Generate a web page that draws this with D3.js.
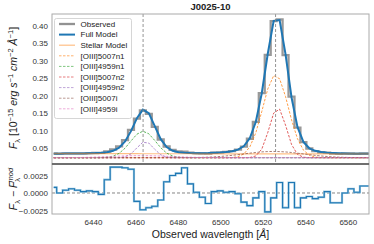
<!DOCTYPE html>
<html>
<head>
<meta charset="utf-8">
<script src="https://cdn.jsdelivr.net/npm/d3@7"></script>
<style>
  body { margin: 0; background: #fff; }
  text { font-family: "Liberation Sans", Arial, sans-serif; }
</style>
</head>
<body>
<div id="chart"></div>
<script>
// wavelength grid of the spectrum (Angstrom)
var wave = [6421.5, 6424.3, 6427.1, 6429.9, 6432.7, 6435.5, 6438.3, 6441.1, 6443.9, 6446.7,
            6449.5, 6452.3, 6455.1, 6457.9, 6460.7, 6463.5, 6466.3, 6469.1, 6471.9, 6474.7,
            6477.5, 6480.3, 6483.1, 6485.9, 6488.7, 6491.5, 6494.3, 6497.1, 6499.9, 6502.7,
            6505.5, 6508.3, 6511.1, 6513.9, 6516.7, 6519.5, 6522.3, 6525.1, 6527.9, 6530.7,
            6533.5, 6536.3, 6539.1, 6541.9, 6544.7, 6547.5, 6550.3, 6553.1, 6555.9, 6558.7,
            6561.5, 6564.3, 6567.1, 6569.9];

var observed = [0.0344, 0.0337, 0.0342, 0.0346, 0.0346, 0.0346, 0.0351, 0.0355, 0.0360, 0.0398,
                0.0455, 0.0547, 0.0722, 0.1016, 0.1341, 0.1573, 0.1477, 0.1105, 0.0742, 0.0542,
                0.0443, 0.0404, 0.0396, 0.0366, 0.0351, 0.0344, 0.0338, 0.0363, 0.0374, 0.0386,
                0.0410, 0.0450, 0.0540, 0.0764, 0.1245, 0.2071, 0.3167, 0.4136, 0.4182, 0.3161,
                0.1969, 0.1083, 0.0667, 0.0485, 0.0410, 0.0377, 0.0368, 0.0341, 0.0333, 0.0341,
                0.0343, 0.0335, 0.0342, 0.0342];

var fullModel = [0.0336, 0.0337, 0.0338, 0.0340, 0.0342, 0.0344, 0.0348, 0.0353, 0.0362, 0.0379,
                 0.0418, 0.0510, 0.0686, 0.0982, 0.1353, 0.1597, 0.1498, 0.1124, 0.0752, 0.0526,
                 0.0418, 0.0376, 0.0360, 0.0353, 0.0350, 0.0350, 0.0353, 0.0361, 0.0371, 0.0385,
                 0.0408, 0.0451, 0.0553, 0.0782, 0.1252, 0.2069, 0.3194, 0.4143, 0.4167, 0.3182,
                 0.1954, 0.1104, 0.0674, 0.0490, 0.0418, 0.0383, 0.0366, 0.0355, 0.0347, 0.0341,
                 0.0337, 0.0334, 0.0332, 0.0332];

var stellar = [0.0336, 0.0336, 0.0336, 0.0336, 0.0336, 0.0335, 0.0335, 0.0335, 0.0335, 0.0335,
               0.0335, 0.0335, 0.0335, 0.0335, 0.0335, 0.0334, 0.0334, 0.0334, 0.0334, 0.0334,
               0.0334, 0.0334, 0.0334, 0.0334, 0.0333, 0.0333, 0.0333, 0.0333, 0.0333, 0.0333,
               0.0333, 0.0333, 0.0333, 0.0333, 0.0332, 0.0332, 0.0332, 0.0332, 0.0332, 0.0332,
               0.0332, 0.0332, 0.0332, 0.0332, 0.0332, 0.0331, 0.0331, 0.0331, 0.0331, 0.0331,
               0.0331, 0.0331, 0.0331, 0.0331];

var oiii5007n1 = [0.022, 0.022, 0.022, 0.022, 0.022, 0.022, 0.022, 0.022, 0.022, 0.022,
                  0.022, 0.022, 0.022, 0.022, 0.022, 0.022, 0.022, 0.022, 0.022, 0.022,
                  0.022, 0.022, 0.022, 0.022, 0.022, 0.022, 0.022, 0.022, 0.022, 0.022,
                  0.0227, 0.0250, 0.0330, 0.0532, 0.0937, 0.1544, 0.2188, 0.2573, 0.2484, 0.1972,
                  0.1310, 0.0766, 0.0439, 0.0291, 0.0239, 0.0222, 0.022, 0.022, 0.022, 0.022,
                  0.022, 0.022, 0.022, 0.022];

var oiii4959n1 = [0.022, 0.022, 0.022, 0.022, 0.022, 0.022, 0.022, 0.022, 0.0223, 0.0233,
                  0.0265, 0.0345, 0.0493, 0.0700, 0.0895, 0.0980, 0.0906, 0.0715, 0.0506, 0.0353,
                  0.0269, 0.0235, 0.0224, 0.022, 0.022, 0.022, 0.022, 0.022, 0.022, 0.022,
                  0.022, 0.022, 0.022, 0.022, 0.022, 0.022, 0.022, 0.022, 0.022, 0.022,
                  0.022, 0.022, 0.022, 0.022, 0.022, 0.022, 0.022, 0.022, 0.022, 0.022,
                  0.022, 0.022, 0.022, 0.022];

var oiii5007n2 = [0.022, 0.022, 0.022, 0.022, 0.022, 0.022, 0.022, 0.022, 0.022, 0.022,
                  0.022, 0.022, 0.022, 0.022, 0.022, 0.022, 0.022, 0.022, 0.022, 0.022,
                  0.022, 0.022, 0.022, 0.022, 0.022, 0.022, 0.022, 0.022, 0.022, 0.022,
                  0.022, 0.022, 0.022, 0.0226, 0.0271, 0.0466, 0.0937, 0.1498, 0.1615, 0.1152,
                  0.0602, 0.0316, 0.0235, 0.022, 0.022, 0.022, 0.022, 0.022, 0.022, 0.022,
                  0.022, 0.022, 0.022, 0.022];

var oiii4959n2 = [0.022, 0.022, 0.022, 0.022, 0.022, 0.022, 0.022, 0.022, 0.022, 0.022,
                  0.022, 0.0224, 0.0246, 0.0330, 0.0504, 0.0663, 0.0640, 0.0461, 0.0304, 0.0238,
                  0.0221, 0.022, 0.022, 0.022, 0.022, 0.022, 0.022, 0.022, 0.022, 0.022,
                  0.022, 0.022, 0.022, 0.022, 0.022, 0.022, 0.022, 0.022, 0.022, 0.022,
                  0.022, 0.022, 0.022, 0.022, 0.022, 0.022, 0.022, 0.022, 0.022, 0.022,
                  0.022, 0.022, 0.022, 0.022];

var oiii5007i = [0.022, 0.022, 0.022, 0.022, 0.022, 0.022, 0.022, 0.022, 0.022, 0.022,
                 0.022, 0.022, 0.022, 0.022, 0.022, 0.022, 0.022, 0.022, 0.022, 0.022,
                 0.022, 0.022, 0.0222, 0.0224, 0.0226, 0.0230, 0.0236, 0.0245, 0.0256, 0.0271,
                 0.0288, 0.0308, 0.0330, 0.0351, 0.0371, 0.0387, 0.0397, 0.0400, 0.0396, 0.0386,
                 0.0370, 0.0350, 0.0328, 0.0307, 0.0287, 0.0270, 0.0255, 0.0244, 0.0236, 0.0230,
                 0.0226, 0.0223, 0.0221, 0.0221];

var oiii4959i = [0.0220, 0.0221, 0.0222, 0.0224, 0.0226, 0.0229, 0.0233, 0.0238, 0.0244, 0.0251,
                 0.0258, 0.0266, 0.0272, 0.0277, 0.0279, 0.0280, 0.0278, 0.0274, 0.0268, 0.0261,
                 0.0254, 0.0247, 0.0240, 0.0235, 0.0230, 0.0227, 0.0224, 0.0223, 0.0222, 0.0221,
                 0.022, 0.022, 0.022, 0.022, 0.022, 0.022, 0.022, 0.022, 0.022, 0.022,
                 0.022, 0.022, 0.022, 0.022, 0.022, 0.022, 0.022, 0.022, 0.022, 0.022,
                 0.022, 0.022, 0.022, 0.022];

// observed - model
var residual = [0.0008, 0.0000, 0.0004, 0.0006, 0.0004, 0.0002, 0.0003, 0.0002, -0.0002, 0.0019,
                0.0037, 0.0037, 0.0036, 0.0034, -0.0012, -0.0024, -0.0021, -0.0019, -0.0010, 0.0016,
                0.0025, 0.0028, 0.0036, 0.0013, 0.0001, -0.0006, -0.0015, 0.0002, 0.0003, 0.0001,
                0.0002, -0.0001, -0.0013, -0.0018, -0.0007, 0.0002, -0.0027, -0.0007, 0.0015, -0.0021,
                0.0015, -0.0021, -0.0007, -0.0005, -0.0008, -0.0006, 0.0002, -0.0014, -0.0014, 0.0000,
                0.0006, 0.0001, 0.0010, 0.0010];

var lineCenters = [6463.6, 6526.0];
var xTicks = [6440, 6460, 6480, 6500, 6520, 6540, 6560];
var yTicks = [0.05, 0.10, 0.15, 0.20, 0.25, 0.30, 0.35, 0.40];
var resTicks = [-0.0025, 0, 0.0025];

var components = [
  {name: "[OIII]5007n1", values: oiii5007n1, color: "#ff7f0e"},
  {name: "[OIII]4959n1", values: oiii4959n1, color: "#2ca02c"},
  {name: "[OIII]5007n2", values: oiii5007n2, color: "#d62728"},
  {name: "[OIII]4959n2", values: oiii4959n2, color: "#9467bd"},
  {name: "[OIII]5007i",  values: oiii5007i,  color: "#8c564b"},
  {name: "[OIII]4959i",  values: oiii4959i,  color: "#e377c2"}
];

(function(){
  var W = 374, H = 244;
  var left = 52, right = 369, top = 14, mid = 164, bottom = 214;

  var x = d3.scaleLinear().domain([6420.7, 6570]).range([left, right]);
  var y = d3.scaleLinear().domain([0.004, 0.434]).range([mid, top]);
  var yr = d3.scaleLinear().domain([-0.003, 0.00414]).range([bottom, mid]);

  var svg = d3.select("#chart").append("svg")
      .attr("width", W).attr("height", H);

  var defs = svg.append("defs");
  defs.append("clipPath").attr("id", "clipTop").append("rect")
      .attr("x", left).attr("y", top).attr("width", right - left).attr("height", mid - top);
  defs.append("clipPath").attr("id", "clipRes").append("rect")
      .attr("x", left).attr("y", mid).attr("width", right - left).attr("height", bottom - mid);

  // title
  svg.append("text")
      .attr("x", (left + right) / 2).attr("y", 10)
      .attr("text-anchor", "middle")
      .style("font-size", "9.5px").style("font-weight", "bold").style("fill", "#222")
      .text("J0025-10");

  // ---- top panel ----
  var gTop = svg.append("g").attr("clip-path", "url(#clipTop)");

  var stepLine = function(vals, ys) {
    return d3.line().curve(d3.curveStep)
      .x(function(d, i) { return x(wave[i]); })
      .y(function(d) { return ys(d); })(vals);
  };
  var smoothLine = function(vals) {
    return d3.line()
      .x(function(d, i) { return x(wave[i]); })
      .y(function(d) { return y(d); })(vals);
  };

  // observed spectrum
  gTop.append("path")
      .attr("d", stepLine(observed, y))
      .attr("fill", "none").attr("stroke", "#7f7f7f")
      .attr("stroke-width", 2.3).attr("stroke-opacity", 0.8);

  // full model
  gTop.append("path")
      .attr("d", smoothLine(fullModel))
      .attr("fill", "none").attr("stroke", "#1f77b4").attr("stroke-width", 2);

  // stellar model
  gTop.append("path")
      .attr("d", smoothLine(stellar))
      .attr("fill", "none").attr("stroke", "#ff7f0e")
      .attr("stroke-opacity", 0.5).attr("stroke-width", 1.2);

  // gaussian components
  components.forEach(function(c) {
    gTop.append("path")
        .attr("d", smoothLine(c.values))
        .attr("fill", "none").attr("stroke", c.color)
        .attr("stroke-opacity", 0.85).attr("stroke-width", 0.9)
        .attr("stroke-dasharray", "2.5,1.5");
  });

  // line centres
  lineCenters.forEach(function(l) {
    svg.append("line")
        .attr("x1", x(l)).attr("x2", x(l)).attr("y1", top).attr("y2", mid)
        .attr("stroke", "#888").attr("stroke-width", 0.9)
        .attr("stroke-dasharray", "3,2");
  });

  // ---- residual panel ----
  svg.append("line")
      .attr("x1", left).attr("x2", right).attr("y1", yr(0)).attr("y2", yr(0))
      .attr("stroke", "#777").attr("stroke-width", 0.9).attr("stroke-dasharray", "3,2");

  var gRes = svg.append("g").attr("clip-path", "url(#clipRes)");
  gRes.append("path")
      .attr("d", stepLine(residual, yr))
      .attr("fill", "none").attr("stroke", "#9ecae1").attr("stroke-width", 2.2);
  gRes.append("path")
      .attr("d", stepLine(residual, yr))
      .attr("fill", "none").attr("stroke", "#1f77b4").attr("stroke-width", 1.1);

  // frames
  svg.append("rect").attr("x", left).attr("y", top)
      .attr("width", right - left).attr("height", mid - top)
      .attr("fill", "none").attr("stroke", "#aaa").attr("stroke-width", 1);
  svg.append("rect").attr("x", left).attr("y", mid)
      .attr("width", right - left).attr("height", bottom - mid)
      .attr("fill", "none").attr("stroke", "#aaa").attr("stroke-width", 1);
  svg.append("line").attr("x1", left).attr("x2", right).attr("y1", mid).attr("y2", mid)
      .attr("stroke", "#555").attr("stroke-width", 1.5);

  // axes
  var styleAxis = function(g) {
    g.select(".domain").remove();
    g.selectAll("text").style("font-size", "8px").style("fill", "#333")
      .style("font-family", "'Liberation Sans', Arial, sans-serif");
  };
  svg.append("g").attr("transform", "translate(" + left + ",0)")
      .call(d3.axisLeft(y).tickValues(yTicks).tickFormat(d3.format(".2f")).tickSize(0).tickPadding(4))
      .call(styleAxis);
  svg.append("g").attr("transform", "translate(" + left + ",0)")
      .call(d3.axisLeft(yr).tickValues(resTicks).tickFormat(d3.format(".4f")).tickSize(0).tickPadding(4))
      .call(styleAxis);
  svg.append("g").attr("transform", "translate(0," + bottom + ")")
      .call(d3.axisBottom(x).tickValues(xTicks).tickFormat(d3.format("d")).tickSize(0).tickPadding(5))
      .call(styleAxis);

  // axis labels
  var yl = svg.append("text")
      .attr("transform", "translate(17,88) rotate(-90)")
      .attr("text-anchor", "middle")
      .style("font-size", "10.5px").style("fill", "#222");
  yl.append("tspan").style("font-style", "italic").text("F");
  yl.append("tspan").attr("dy", 2.5).style("font-size", "7.5px").text("λ");
  yl.append("tspan").attr("dy", -2.5).text(" [10");
  yl.append("tspan").attr("dy", -4).style("font-size", "7.5px").text("−15");
  yl.append("tspan").attr("dy", 4).style("font-style", "italic").text(" erg s");
  yl.append("tspan").attr("dy", -4).style("font-size", "7.5px").text("−1");
  yl.append("tspan").attr("dy", 4).style("font-style", "italic").text(" cm");
  yl.append("tspan").attr("dy", -4).style("font-size", "7.5px").text("−2");
  yl.append("tspan").attr("dy", 4).style("font-style", "italic").text(" Å");
  yl.append("tspan").attr("dy", -4).style("font-size", "7.5px").text("−1");
  yl.append("tspan").attr("dy", 4).text("]");

  var rl = svg.append("text")
      .attr("transform", "translate(17,189) rotate(-90)")
      .attr("text-anchor", "middle")
      .style("font-size", "10.5px").style("fill", "#222");
  rl.append("tspan").style("font-style", "italic").text("F");
  rl.append("tspan").attr("dy", 2.5).style("font-size", "7.5px").text("λ");
  rl.append("tspan").attr("dy", -2.5).text(" − ");
  rl.append("tspan").style("font-style", "italic").text("F");
  rl.append("tspan").attr("dy", 2.5).style("font-size", "7.5px").text("λ");
  rl.append("tspan").attr("dx", -4.5).attr("dy", -7).style("font-size", "7.5px")
      .style("font-style", "italic").text("mod");

  var xl = svg.append("text")
      .attr("x", (left + right) / 2).attr("y", 238)
      .attr("text-anchor", "middle")
      .style("font-size", "10.5px").style("fill", "#222");
  xl.append("tspan").text("Observed wavelength [");
  xl.append("tspan").style("font-style", "italic").text("Å");
  xl.append("tspan").text("]");

  // legend
  var legendItems = [
    {name: "Observed", color: "#7f7f7f", width: 2.3, dash: null, opacity: 0.85},
    {name: "Full Model", color: "#1f77b4", width: 2, dash: null, opacity: 1},
    {name: "Stellar Model", color: "#ff7f0e", width: 1.2, dash: null, opacity: 0.5}
  ].concat(components.map(function(c) {
    return {name: c.name, color: c.color, width: 1, dash: "2.5,1.5", opacity: 0.6};
  }));

  svg.append("rect")
      .attr("x", 54.5).attr("y", 18.5).attr("width", 77).attr("height", 100)
      .attr("rx", 2)
      .attr("fill", "#fff").attr("fill-opacity", 0.85)
      .attr("stroke", "#ccc").attr("stroke-width", 0.8);

  var lg = svg.append("g").selectAll("g").data(legendItems).enter().append("g")
      .attr("transform", function(d, i) { return "translate(0," + (24 + i * 10.6) + ")"; });
  lg.append("line")
      .attr("x1", 59).attr("x2", 75).attr("y1", 0).attr("y2", 0)
      .attr("stroke", function(d) { return d.color; })
      .attr("stroke-width", function(d) { return d.width; })
      .attr("stroke-opacity", function(d) { return d.opacity; })
      .attr("stroke-dasharray", function(d) { return d.dash; });
  lg.append("text")
      .attr("x", 80.5).attr("y", 0).attr("dy", "0.35em")
      .style("font-size", "8px").style("fill", "#222")
      .text(function(d) { return d.name; });
})();
</script>
</body>
</html>
